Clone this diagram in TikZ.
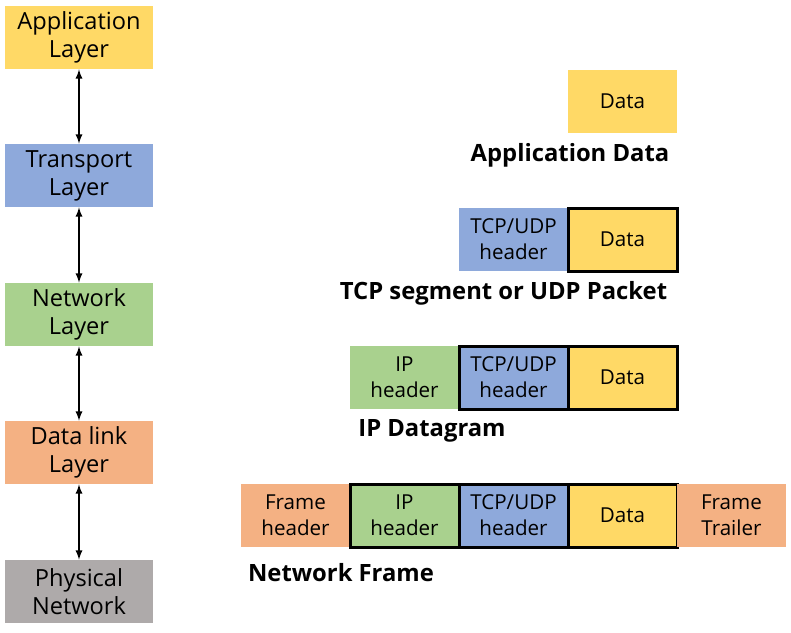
\documentclass[tikz,border=0pt]{standalone}
\usepackage{fontspec}
\setmainfont{Open Sans}
\definecolor{appcol}{HTML}{FFD966}
\definecolor{tcpcol}{HTML}{8EA9DB}
\definecolor{ipcol}{HTML}{A9D18E}
\definecolor{linkcol}{HTML}{F4B183}
\definecolor{physcol}{HTML}{AEAAAA}
\begin{document}
\begin{tikzpicture}[x=0.5pt,y=-0.5pt]
	\tikzset{>=latex}
	\tikzset{layer/.style={minimum width=74pt,minimum height=31.5pt,inner sep=0pt,align=center,font=\fontsize{11.8}{14}\selectfont},
		cell/.style={minimum width=54.5pt,minimum height=31.5pt,inner sep=0pt,align=center,font=\fontsize{10.3}{13}\selectfont},
		boxed/.style={draw=black,line width=1.5pt},
		caption/.style={font=\bfseries\fontsize{11.9}{14}\selectfont}}
	\useasboundingbox (0,0) rectangle (791,632);
	
	% layers
	\node[layer,fill=appcol] (app) at (79,37.5) {Application\\Layer};
	\node[layer,fill=tcpcol] (trans) at (79,175.5) {Transport\\Layer};
	\node[layer,fill=ipcol] (net) at (79,314.5) {Network\\Layer};
	\node[layer,fill=linkcol] (link) at (79,452.5) {Data link\\Layer};
	\node[layer,fill=physcol] (phys) at (79,591.5) {Physical\\Network};
	\foreach \a/\b in {app/trans,trans/net,net/link,link/phys}
	\draw[<->,line width=0.6pt] (\a) -- (\b);
	
	% application data
	\node[cell,fill=appcol] (data1) at (622.5,101.5) {Data};
	\node[caption] (cap1) at (570,155) {Application Data};
	
	% segment
	\node[cell,fill=tcpcol] (tcp2) at (513.5,239.5) {TCP/UDP\\header};
	\node[cell,fill=appcol,boxed] (data2) at (622.5,239.5) {Data};
	\node[caption] (cap2) at (503.5,293) {TCP segment or UDP Packet};
	
	% datagram
	\node[cell,fill=ipcol] (ip3) at (404.5,377.5) {IP\\header};
	\node[cell,fill=tcpcol,boxed] (tcp3) at (513.5,377.5) {TCP/UDP\\header};
	\node[cell,fill=appcol,boxed] (data3) at (622.5,377.5) {Data};
	\node[caption] (cap3) at (432,431) {IP Datagram};
	
	% frame
	\node[cell,fill=linkcol] (fh4) at (295.5,515.5) {Frame\\header};
	\node[cell,fill=ipcol,boxed] (ip4) at (404.5,515.5) {IP\\header};
	\node[cell,fill=tcpcol,boxed] (tcp4) at (513.5,515.5) {TCP/UDP\\header};
	\node[cell,fill=appcol,boxed] (data4) at (622.5,515.5) {Data};
	\node[cell,fill=linkcol] (ft4) at (731.5,515.5) {Frame\\Trailer};
	\node[caption] (cap4) at (341,573) {Network Frame};
	
\end{tikzpicture}
\end{document}
